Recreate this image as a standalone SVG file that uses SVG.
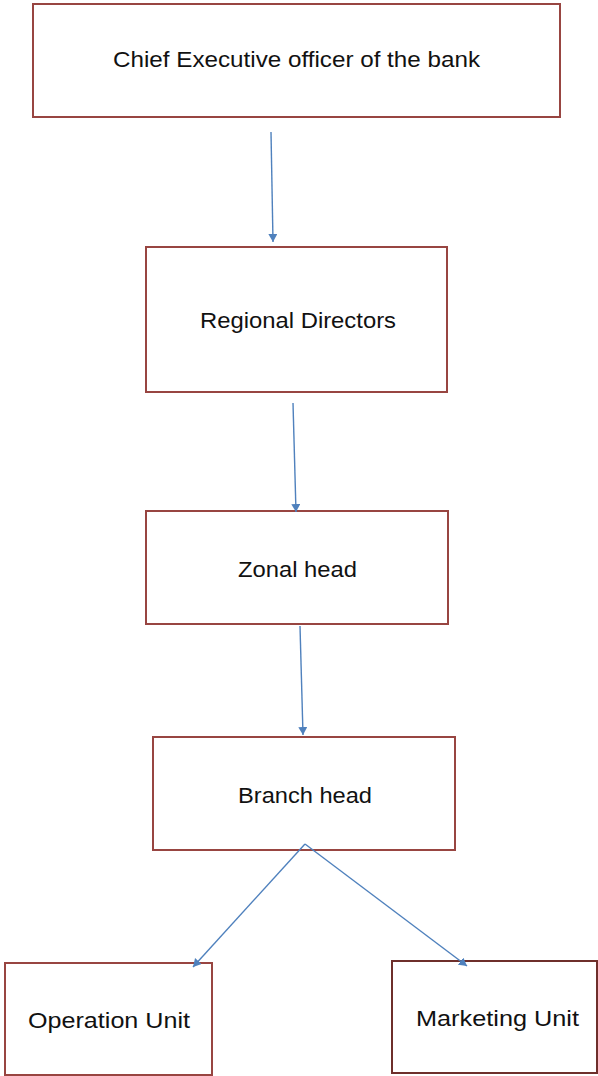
<svg xmlns="http://www.w3.org/2000/svg" width="598" height="1076" viewBox="0 0 598 1076">
  <style>
    .box { fill: #ffffff; stroke: #984541; stroke-width: 2; }
    .box.dark { stroke: #6e2f2b; }
    .label { font-family: "Liberation Sans", Arial, sans-serif; font-size: 22px; fill: #111111; }
    .link { fill: none; stroke: #4f81bd; stroke-width: 1.4; }
  </style>
  <defs>
    <marker id="head" markerUnits="userSpaceOnUse" markerWidth="10" markerHeight="10" refX="8" refY="4.5" orient="auto">
      <path d="M0,0 L8,4.5 L0,9 z" fill="#4f81bd"/>
    </marker>
  </defs>
  <rect width="598" height="1076" fill="#ffffff"/>

  <g id="ceo">
    <rect class="box" x="33" y="4" width="527" height="113"/>
    <text class="label" x="113" y="67" textLength="367" lengthAdjust="spacingAndGlyphs">Chief Executive officer of the bank</text>
  </g>

  <g id="regional-directors">
    <rect class="box" x="146" y="247" width="301" height="145"/>
    <text class="label" x="200" y="328" textLength="196" lengthAdjust="spacingAndGlyphs">Regional Directors</text>
  </g>

  <g id="zonal-head">
    <rect class="box" x="146" y="511" width="302" height="113"/>
    <text class="label" x="238" y="577" textLength="119" lengthAdjust="spacingAndGlyphs">Zonal head</text>
  </g>

  <g id="branch-head">
    <rect class="box" x="153" y="737" width="302" height="113"/>
    <text class="label" x="238" y="803" textLength="134" lengthAdjust="spacingAndGlyphs">Branch head</text>
  </g>

  <g id="operation-unit">
    <rect class="box" x="5" y="963" width="207" height="112"/>
    <text class="label" x="28" y="1028" textLength="162" lengthAdjust="spacingAndGlyphs">Operation Unit</text>
  </g>

  <g id="marketing-unit">
    <rect class="box dark" x="392" y="961" width="205" height="112"/>
    <text class="label" x="416" y="1026" textLength="163" lengthAdjust="spacingAndGlyphs">Marketing Unit</text>
  </g>

  <g id="connectors">
    <line class="link" x1="271" y1="132" x2="273" y2="242" marker-end="url(#head)"/>
    <line class="link" x1="293" y1="403" x2="296" y2="512" marker-end="url(#head)"/>
    <line class="link" x1="300" y1="626" x2="303" y2="735" marker-end="url(#head)"/>
    <line class="link" x1="305" y1="844" x2="193" y2="967" marker-end="url(#head)"/>
    <line class="link" x1="305" y1="844" x2="467" y2="966" marker-end="url(#head)"/>
  </g>
</svg>
